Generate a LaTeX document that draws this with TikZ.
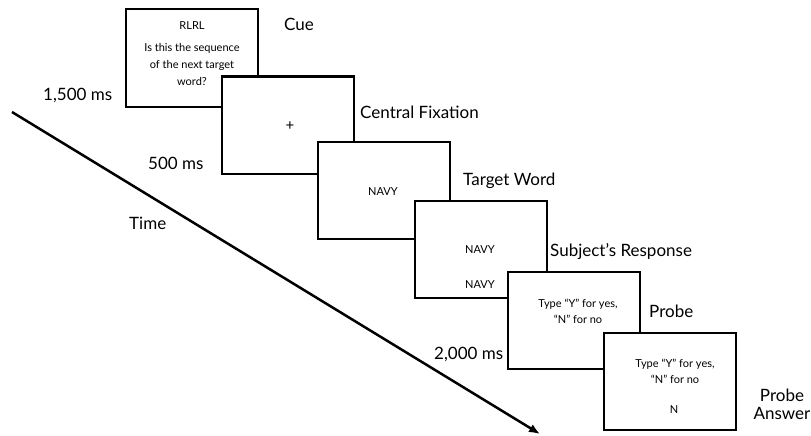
\documentclass[tikz,border=0pt]{standalone}
\usepackage{fontspec}
\setmainfont{Lato}
\usetikzlibrary{positioning,arrows.meta}
\tikzset{
 screen/.style
  = {rectangle, draw, fill=white, line width=2pt, minimum width=132pt,
     minimum height=97pt, inner sep=0pt},
 stim/.style
  = {font=\fontsize{11}{17}\selectfont, align=center, inner sep=0pt},
 tag/.style
  = {font=\fontsize{17}{18}\selectfont, inner sep=0pt, anchor=base west},
 l/.style
  = {draw, -{Latex[length=11pt,width=9pt]}, line width=2.5pt}
}

\begin{document}
\begin{tikzpicture}[x=1pt,y=-1pt]
    \useasboundingbox (0,0) rectangle (811,436);

    % time axis
    \coordinate (tstart) at (12,112);
    \coordinate (tend) at (540,434);
    \path [l] (tstart) -- (tend);

    % screens, each one over the last
    \node [screen] (cue) at (192,58) {};
    \node [stim] (seq) at (192,26) {RLRL};
    \node [stim] (question) at (192,64) {Is this the sequence\\of the next target\\word?};

    \node [screen] (fixation) at (288,125) {};
    \node [stim, font=\fontsize{15}{17}\selectfont] (cross) at (290,126) {+};

    \node [screen] (target) at (383.5,190.5) {};
    \node [stim] (word) at (383,192) {NAVY};

    \node [screen] (response) at (480.5,249.5) {};
    \node [stim] (shown) at (480,250) {NAVY};
    \node [stim] (typed) at (480,285) {NAVY};

    \node [screen] (probe) at (574,320) {};
    \node [stim, font=\fontsize{11}{16}\selectfont] (ask) at (578,311) {Type ``Y'' for yes,\\``N'' for no};

    \node [screen] (answer) at (669.5,381) {};
    \node [stim, font=\fontsize{11}{16}\selectfont] (ask2) at (675,371.5) {Type ``Y'' for yes,\\``N'' for no};
    \node [stim] (reply) at (674,410) {N};

    % labels
    \node [tag] (cuelbl) at (284,31) {Cue};
    \node [tag] (t1500) at (43,100) {1,500 ms};
    \node [tag] (fixlbl) at (360,118) {Central Fixation};
    \node [tag] (t500) at (148,169) {500 ms};
    \node [tag] (targetlbl) at (463,185) {Target Word};
    \node [tag] (timelbl) at (129,229) {Time};
    \node [tag] (resplbl) at (550,256) {Subject's Response};
    \node [tag] (probelbl) at (649,317) {Probe};
    \node [tag] (t2000) at (434,359) {2,000 ms};
    \node [tag, anchor=center, align=center] (answerlbl) at (782,404) {Probe\\Answer};

\end{tikzpicture}
\end{document}
